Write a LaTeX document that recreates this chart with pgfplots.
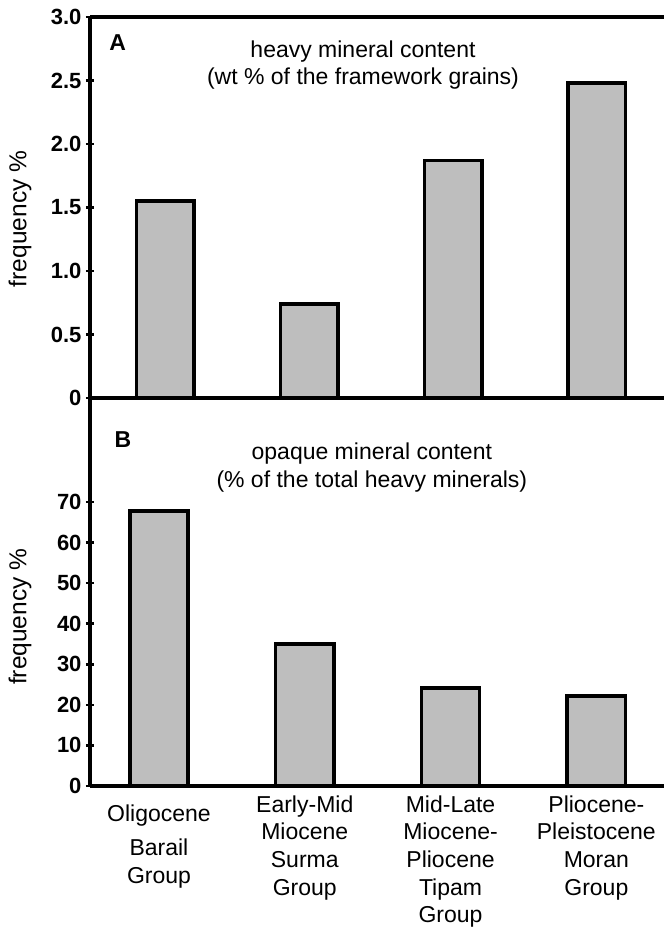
\documentclass[border=0pt]{standalone}
\usepackage{fontspec}
\setmainfont{Liberation Sans}
\usepackage{pgfplots}
\pgfplotsset{compat=1.18}
\definecolor{barfill}{RGB}{190,190,190}
\newcommand{\lab}{\fontsize{23bp}{27.7bp}\selectfont}
\newcommand{\ylab}{\fontsize{24.5bp}{28bp}\selectfont}
\newcommand{\tickf}{\fontsize{22bp}{25bp}\selectfont\bfseries}
\newcommand{\letf}{\fontsize{23bp}{26bp}\selectfont\bfseries}

\begin{document}
\begin{tikzpicture}
\useasboundingbox (0,0) rectangle (664bp,-929bp);
\pgfplotsset{
  panel/.style={
    scale only axis, width=574bp,
    ybar, bar width=0.40,
    ymin=0,
    tick align=outside, major tick length=8bp,
    ytick style={line width=2.5bp, black},
    yticklabel style={font=\tickf, xshift=-1bp},
    every axis y label/.style={rotate=90, anchor=center, font=\ylab},
    clip=false,
  },
}
% ---------- panel A ----------
\begin{axis}[panel,
  at={(90bp,-398bp)}, anchor=south west, height=381bp,
  axis x line=box, axis y line=left,
  axis line style={-, line width=4bp, black},
  x axis line style={-}, y axis line style={-},
  xmin=-0.525, xmax=3.467, ymax=3,
  xtick=\empty,
  ytick={0,0.5,1,1.5,2,2.5,3},
  yticklabels={0,0.5,1.0,1.5,2.0,2.5,3.0},
  ylabel={frequency \%},
  ylabel style={at={(axis description cs:-0.122,0.47)}},
]
\addplot[fill=barfill, draw=black, line width=3.5bp] coordinates {(0,1.55) (1,0.74) (2,1.87) (3,2.48)};
\node[font=\lab, align=center] at (axis description cs:0.4756,0.874) {heavy mineral content\\(wt \% of the framework grains)};
\node[font=\letf] at (axis description cs:0.048,0.932) {A};
\end{axis}
% ---------- panel B ----------
\begin{axis}[panel,
  at={(90bp,-786bp)}, anchor=south west, height=388bp,
  axis x line=bottom, axis y line=left,
  axis line style={-, line width=4bp, black},
  x axis line style={-}, y axis line style={-},
  xmin=-0.473, xmax=3.464, ymax=95.6,
  xtick={0,1,2,3},
  xtick style={draw=none},
  xticklabels={{\raisebox{0pt}[\dimexpr\height+9bp\relax]{Oligocene}\\[7bp]Barail\\Group},
               {Early-Mid\\Miocene\\Surma\\Group},
               {Mid-Late\\Miocene-\\Pliocene\\Tipam\\Group},
               {Pliocene-\\Pleistocene\\Moran\\Group}},
  xticklabel style={font=\lab, align=center, anchor=north, yshift=-2bp},
  ytick={0,10,20,30,40,50,60,70},
  yticklabels={0,10,20,30,40,50,60,70},
  ylabel={frequency \%},
  ylabel style={at={(axis description cs:-0.122,0.436)}},
]
\addplot[fill=barfill, draw=black, line width=3.5bp] coordinates {(0,67.8) (1,35.0) (2,24.2) (3,22.2)};
\node[font=\lab, align=center] at (axis description cs:0.491,0.82) {opaque mineral content\\(\% of the total heavy minerals)};
\node[font=\letf] at (axis description cs:0.0575,0.892) {B};
\end{axis}
\end{tikzpicture}
\end{document}
